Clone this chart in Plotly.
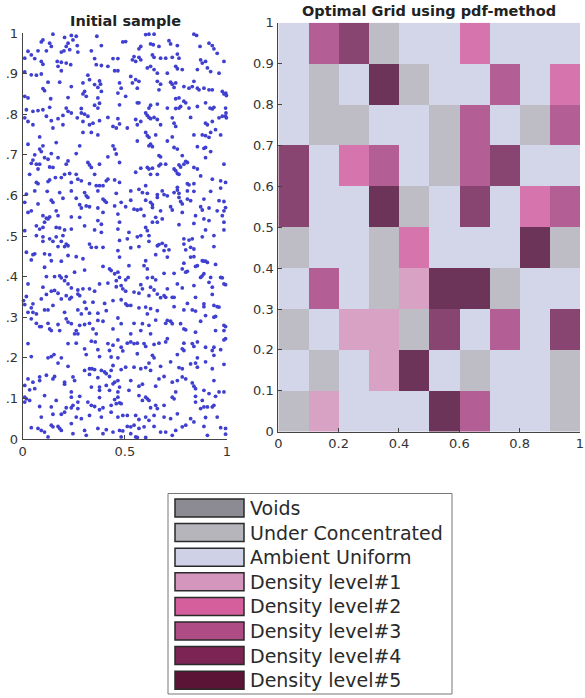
import plotly.graph_objects as go

# ---------------- data ----------------
sample_points = [
    # upper-left region
    (0.148,0.997),(0.205,0.989),(0.238,0.994),(0.262,0.992),(0.246,0.983),(0.363,0.992),(0.099,0.983),(0.091,0.978),
    (0.132,0.975),(0.140,0.967),(0.222,0.975),(0.213,0.967),(0.267,0.969),(0.385,0.969),(0.490,0.978),(0.026,0.955),
    (0.075,0.956),(0.116,0.956),(0.042,0.946),(0.189,0.953),(0.202,0.956),(0.230,0.959),(0.270,0.953),(0.336,0.956),
    (0.010,0.938),(0.059,0.937),(0.091,0.930),(0.099,0.923),(0.169,0.930),(0.189,0.928),(0.213,0.926),(0.235,0.922),
    (0.173,0.918),(0.189,0.907),(0.352,0.937),(0.360,0.922),(0.385,0.920),(0.417,0.918),(0.442,0.937),(0.466,0.937),
    (0.450,0.907),(0.466,0.907),(0.010,0.904),(0.042,0.897),(0.067,0.896),(0.091,0.899),(0.319,0.896),(0.327,0.885),
    (0.376,0.882),(0.381,0.874),(0.352,0.873),(0.124,0.879),(0.181,0.879),(0.238,0.868),(0.295,0.877),(0.303,0.856),
    (0.295,0.850),(0.099,0.863),(0.107,0.858),(0.368,0.866),(0.385,0.856),(0.474,0.877),(0.482,0.864),(0.010,0.844),
    (0.026,0.840),(0.137,0.838),(0.222,0.841),(0.311,0.844),(0.368,0.840),(0.466,0.852),(0.474,0.823),(0.376,0.827),
    (0.368,0.815),(0.352,0.822),(0.287,0.814),(0.018,0.811),(0.050,0.807),(0.075,0.809),(0.099,0.811),(0.132,0.817),
    (0.213,0.815),(0.222,0.807),(0.238,0.803),(0.287,0.803),(0.303,0.800),(0.319,0.795),(0.267,0.791),(0.010,0.791),
    (0.026,0.782),(0.050,0.774),(0.116,0.795),(0.140,0.784),(0.173,0.789),(0.197,0.797),(0.417,0.792),(0.466,0.789),
    (0.474,0.776),(0.295,0.782),(0.327,0.774),(0.344,0.778),(0.376,0.784),(0.442,0.770),(0.458,0.766),(0.148,0.766),
    (0.197,0.774),
    # upper-right region
    (0.602,0.996),(0.618,0.997),(0.643,0.997),(0.838,0.997),(0.851,0.994),(0.504,0.979),(0.578,0.967),(0.569,0.961),
    (0.626,0.973),(0.639,0.971),(0.667,0.967),(0.716,0.981),(0.724,0.973),(0.757,0.969),(0.912,0.975),(0.928,0.969),
    (0.936,0.961),(0.952,0.950),(0.868,0.967),(0.545,0.942),(0.569,0.940),(0.537,0.934),(0.553,0.930),(0.578,0.934),
    (0.635,0.946),(0.643,0.940),(0.675,0.938),(0.700,0.938),(0.732,0.940),(0.757,0.948),(0.765,0.938),(0.871,0.934),
    (0.879,0.926),(0.895,0.930),(0.985,0.930),(0.610,0.914),(0.626,0.918),(0.643,0.910),(0.659,0.901),(0.708,0.901),
    (0.749,0.918),(0.757,0.912),(0.781,0.910),(0.855,0.910),(0.904,0.914),(0.920,0.905),(0.961,0.901),(0.529,0.893),
    (0.553,0.885),(0.569,0.881),(0.537,0.877),(0.561,0.864),(0.659,0.881),(0.675,0.874),(0.667,0.860),(0.724,0.879),
    (0.732,0.874),(0.749,0.877),(0.741,0.866),(0.789,0.868),(0.814,0.864),(0.830,0.868),(0.838,0.881),(0.855,0.864),
    (0.863,0.860),(0.887,0.864),(0.912,0.860),(0.928,0.860),(0.977,0.856),(0.985,0.850),(0.994,0.852),(0.997,0.846),
    (0.504,0.844),(0.561,0.828),(0.569,0.828),(0.626,0.822),(0.618,0.815),(0.659,0.825),(0.749,0.838),(0.765,0.840),
    (0.789,0.832),(0.798,0.828),(0.708,0.815),(0.749,0.814),(0.765,0.815),(0.773,0.819),(0.814,0.815),(0.855,0.819),
    (0.895,0.828),(0.917,0.815),(0.928,0.813),(0.936,0.817),(0.993,0.815),(0.995,0.803),(0.602,0.803),(0.610,0.797),
    (0.618,0.792),(0.626,0.789),(0.643,0.792),(0.659,0.787),(0.732,0.791),(0.741,0.778),(0.749,0.770),(0.822,0.792),
    (0.895,0.778),(0.904,0.774),(0.928,0.782),(0.961,0.791),(0.977,0.795),(0.993,0.795),(0.997,0.791),(0.553,0.787),
    (0.561,0.774),(0.578,0.782),(0.675,0.774),(0.512,0.766),(0.944,0.762),
    # upper-middle-left
    (0.295,0.755),(0.336,0.755),(0.368,0.749),(0.083,0.744),(0.026,0.726),(0.164,0.730),(0.099,0.722),(0.083,0.714),
    (0.091,0.708),(0.107,0.693),(0.059,0.700),(0.140,0.703),(0.124,0.689),(0.050,0.687),(0.042,0.679),(0.067,0.677),
    (0.083,0.677),(0.173,0.693),(0.222,0.685),(0.213,0.677),(0.262,0.703),(0.279,0.722),(0.319,0.681),(0.327,0.675),
    (0.336,0.669),(0.376,0.677),(0.442,0.722),(0.450,0.714),(0.458,0.702),(0.417,0.695),(0.474,0.681),(0.034,0.652),
    (0.075,0.665),(0.132,0.670),(0.148,0.669),(0.205,0.652),(0.230,0.654),(0.160,0.644),(0.189,0.644),(0.262,0.652),
    (0.287,0.636),(0.352,0.652),(0.409,0.636),(0.417,0.640),(0.450,0.638),(0.474,0.632),(0.067,0.632),(0.075,0.629),
    (0.124,0.634),(0.132,0.638),(0.238,0.632),(0.270,0.640),(0.327,0.629),(0.360,0.624),(0.376,0.624),(0.393,0.624),
    (0.059,0.611),(0.120,0.610),(0.018,0.603),(0.181,0.607),(0.238,0.611),(0.303,0.607),(0.311,0.599),(0.319,0.595),
    (0.368,0.611),(0.458,0.605),(0.010,0.583),(0.075,0.579),(0.140,0.588),(0.148,0.583),(0.197,0.593),(0.262,0.593),
    (0.279,0.577),(0.287,0.569),(0.311,0.574),(0.327,0.572),(0.393,0.591),(0.401,0.587),(0.409,0.583),(0.368,0.569),
    (0.393,0.558),(0.450,0.574),(0.482,0.583),(0.026,0.558),(0.042,0.562),(0.099,0.550),(0.116,0.544),(0.124,0.542),
    (0.132,0.547),(0.107,0.534),(0.164,0.562),(0.173,0.550),(0.238,0.547),(0.279,0.546),(0.368,0.538),(0.385,0.529),
    (0.466,0.554),(0.474,0.534),(0.010,0.513),(0.067,0.525),(0.083,0.517),(0.099,0.521),(0.164,0.521),(0.181,0.520),
    (0.205,0.515),(0.238,0.517),(0.303,0.525),(0.352,0.515),(0.385,0.509),(0.466,0.517),
    # upper-middle-right
    (0.602,0.755),(0.610,0.747),(0.618,0.743),(0.651,0.749),(0.561,0.734),(0.618,0.722),(0.635,0.720),(0.626,0.726),
    (0.708,0.734),(0.732,0.744),(0.741,0.718),(0.757,0.714),(0.838,0.749),(0.879,0.749),(0.895,0.747),(0.912,0.743),
    (0.920,0.755),(0.969,0.749),(0.855,0.720),(0.887,0.716),(0.895,0.718),(0.920,0.708),(0.895,0.693),(0.667,0.698),
    (0.675,0.695),(0.781,0.698),(0.806,0.681),(0.798,0.684),(0.675,0.677),(0.667,0.673),(0.700,0.677),(0.765,0.675),
    (0.773,0.670),(0.789,0.677),(0.838,0.669),(0.855,0.665),(0.985,0.677),(0.553,0.657),(0.578,0.667),(0.610,0.669),
    (0.618,0.665),(0.635,0.667),(0.626,0.652),(0.659,0.652),(0.741,0.665),(0.749,0.661),(0.757,0.654),(0.765,0.652),
    (0.871,0.648),(0.928,0.640),(0.969,0.636),(0.993,0.632),(0.806,0.629),(0.814,0.626),(0.838,0.629),(0.602,0.624),
    (0.529,0.611),(0.569,0.615),(0.586,0.607),(0.610,0.605),(0.659,0.602),(0.683,0.611),(0.692,0.602),(0.741,0.607),
    (0.757,0.620),(0.757,0.613),(0.765,0.605),(0.806,0.611),(0.838,0.610),(0.920,0.610),(0.969,0.618),(0.529,0.588),
    (0.602,0.588),(0.626,0.583),(0.635,0.577),(0.659,0.595),(0.708,0.599),(0.765,0.595),(0.773,0.585),(0.781,0.579),
    (0.806,0.591),(0.822,0.587),(0.887,0.591),(0.961,0.587),(0.985,0.585),(0.504,0.572),(0.545,0.566),(0.561,0.564),
    (0.578,0.566),(0.635,0.570),(0.675,0.562),(0.724,0.572),(0.732,0.564),(0.781,0.558),(0.871,0.572),(0.879,0.564),
    (0.912,0.569),(0.952,0.562),(0.985,0.562),(0.993,0.570),(0.594,0.550),(0.635,0.534),(0.651,0.546),(0.659,0.534),
    (0.683,0.542),(0.765,0.528),(0.846,0.550),(0.838,0.531),(0.887,0.542),(0.912,0.538),(0.977,0.550),(0.985,0.534),
    (0.602,0.521),(0.610,0.513),(0.895,0.515),(0.985,0.515),(0.520,0.509),
    # lower-middle-left
    (0.067,0.501),(0.099,0.498),(0.132,0.493),(0.164,0.498),(0.197,0.501),(0.099,0.487),(0.148,0.487),(0.189,0.487),
    (0.213,0.480),(0.173,0.474),(0.205,0.474),(0.222,0.476),(0.327,0.480),(0.336,0.472),(0.360,0.472),(0.393,0.472),
    (0.474,0.489),(0.018,0.460),(0.050,0.454),(0.059,0.456),(0.042,0.441),(0.107,0.456),(0.132,0.454),(0.222,0.452),
    (0.262,0.449),(0.140,0.439),(0.189,0.438),(0.295,0.444),(0.466,0.464),(0.474,0.448),(0.107,0.423),(0.254,0.411),
    (0.303,0.416),(0.393,0.425),(0.425,0.419),(0.433,0.415),(0.450,0.407),(0.466,0.411),(0.474,0.398),(0.458,0.390),
    (0.116,0.400),(0.156,0.400),(0.181,0.402),(0.189,0.397),(0.213,0.400),(0.205,0.390),(0.222,0.382),(0.238,0.372),
    (0.270,0.367),(0.295,0.370),(0.026,0.382),(0.099,0.374),(0.140,0.364),(0.156,0.366),(0.173,0.359),(0.213,0.353),
    (0.270,0.357),(0.279,0.353),(0.238,0.349),(0.376,0.382),(0.417,0.384),(0.458,0.375),(0.482,0.378),(0.490,0.370),
    (0.327,0.370),(0.352,0.364),(0.018,0.351),(0.004,0.341),(0.010,0.331),(0.050,0.333),(0.091,0.345),(0.116,0.356),
    (0.148,0.329),(0.189,0.345),(0.230,0.345),(0.303,0.337),(0.344,0.337),(0.401,0.334),(0.442,0.341),(0.482,0.343),
    (0.042,0.323),(0.050,0.312),(0.067,0.308),(0.107,0.318),(0.124,0.318),(0.205,0.312),(0.270,0.318),(0.287,0.308),
    (0.311,0.321),(0.327,0.310),(0.368,0.310),(0.409,0.316),(0.042,0.296),(0.067,0.285),(0.083,0.277),(0.091,0.277),
    (0.124,0.285),(0.132,0.271),(0.140,0.267),(0.173,0.282),(0.213,0.296),(0.222,0.288),(0.238,0.284),(0.262,0.267),
    (0.270,0.259),(0.279,0.280),(0.303,0.282),(0.327,0.285),(0.344,0.271),(0.360,0.259),(0.393,0.290),(0.368,0.292),
    (0.442,0.271),(0.466,0.298),(0.482,0.284),(0.026,0.312),(0.181,0.267),(0.254,0.259),
    # lower-middle-right
    (0.561,0.498),(0.578,0.501),(0.618,0.501),(0.512,0.493),(0.569,0.474),(0.529,0.471),(0.618,0.487),(0.659,0.476),
    (0.667,0.479),(0.683,0.482),(0.700,0.476),(0.692,0.464),(0.716,0.466),(0.708,0.448),(0.651,0.454),(0.789,0.493),
    (0.814,0.490),(0.830,0.493),(0.879,0.498),(0.936,0.501),(0.789,0.480),(0.798,0.466),(0.822,0.472),(0.838,0.468),
    (0.936,0.474),(0.822,0.448),(0.838,0.449),(0.879,0.439),(0.887,0.438),(0.895,0.438),(0.904,0.435),(0.944,0.430),
    (0.846,0.425),(0.855,0.427),(0.789,0.433),(0.781,0.419),(0.798,0.411),(0.806,0.413),(0.871,0.398),(0.879,0.402),
    (0.887,0.407),(0.920,0.398),(0.969,0.398),(0.977,0.397),(0.985,0.382),(0.993,0.380),(0.520,0.427),(0.602,0.439),
    (0.594,0.427),(0.610,0.419),(0.516,0.398),(0.504,0.392),(0.610,0.397),(0.635,0.398),(0.651,0.392),(0.692,0.408),
    (0.741,0.408),(0.578,0.380),(0.586,0.370),(0.626,0.374),(0.643,0.367),(0.708,0.370),(0.757,0.382),(0.781,0.372),
    (0.838,0.378),(0.928,0.374),(0.912,0.386),(0.504,0.364),(0.545,0.362),(0.569,0.359),(0.618,0.353),(0.659,0.357),
    (0.675,0.348),(0.700,0.349),(0.692,0.353),(0.732,0.349),(0.741,0.349),(0.846,0.349),(0.928,0.356),(0.504,0.333),
    (0.512,0.329),(0.529,0.329),(0.569,0.323),(0.602,0.325),(0.610,0.308),(0.626,0.321),(0.659,0.316),(0.741,0.326),
    (0.789,0.318),(0.806,0.334),(0.830,0.318),(0.846,0.315),(0.887,0.333),(0.887,0.326),(0.936,0.329),(0.952,0.326),
    (0.961,0.325),(0.895,0.304),(0.936,0.300),(0.944,0.302),(0.545,0.285),(0.586,0.284),(0.618,0.280),(0.651,0.293),
    (0.700,0.285),(0.708,0.292),(0.724,0.290),(0.732,0.284),(0.773,0.284),(0.789,0.271),(0.798,0.269),(0.846,0.263),
    (0.871,0.290),(0.944,0.267),(0.985,0.280),(0.993,0.277),(0.985,0.267),(0.529,0.259),(0.578,0.267),(0.626,0.259),
    # lower-left
    (0.026,0.235),(0.222,0.235),(0.262,0.236),(0.336,0.241),(0.355,0.239),(0.417,0.235),(0.442,0.231),(0.466,0.244),
    (0.482,0.226),(0.042,0.203),(0.124,0.200),(0.140,0.203),(0.153,0.208),(0.189,0.200),(0.303,0.222),(0.311,0.208),
    (0.368,0.220),(0.376,0.203),(0.425,0.218),(0.433,0.202),(0.466,0.200),(0.490,0.217),(0.173,0.187),(0.222,0.179),
    (0.303,0.169),(0.327,0.173),(0.339,0.173),(0.352,0.171),(0.385,0.169),(0.401,0.165),(0.409,0.161),(0.442,0.181),
    (0.433,0.169),(0.482,0.171),(0.026,0.148),(0.050,0.140),(0.083,0.153),(0.083,0.144),(0.116,0.157),(0.148,0.148),
    (0.156,0.154),(0.205,0.140),(0.246,0.153),(0.254,0.144),(0.327,0.159),(0.368,0.151),(0.425,0.154),(0.442,0.136),
    (0.450,0.140),(0.466,0.144),(0.474,0.128),(0.010,0.132),(0.034,0.121),(0.059,0.124),(0.205,0.135),(0.238,0.116),
    (0.336,0.128),(0.376,0.128),(0.376,0.120),(0.409,0.132),(0.425,0.120),(0.466,0.116),(0.010,0.103),(0.018,0.099),
    (0.010,0.091),(0.034,0.095),(0.107,0.107),(0.164,0.095),(0.238,0.103),(0.279,0.105),(0.270,0.091),(0.319,0.091),
    (0.376,0.102),(0.450,0.097),(0.466,0.103),(0.474,0.089),(0.083,0.080),(0.140,0.079),(0.213,0.077),(0.238,0.077),
    (0.246,0.083),(0.336,0.083),(0.352,0.080),(0.393,0.077),(0.433,0.083),(0.458,0.087),(0.482,0.087),(0.091,0.054),
    (0.148,0.061),(0.189,0.061),(0.205,0.066),(0.270,0.075),(0.262,0.054),(0.287,0.050),(0.327,0.058),(0.376,0.072),
    (0.385,0.054),(0.433,0.066),(0.466,0.054),(0.490,0.058),(0.042,0.028),(0.075,0.026),(0.091,0.021),(0.107,0.017),
    (0.140,0.034),(0.148,0.030),(0.173,0.031),(0.181,0.026),(0.189,0.021),(0.238,0.038),(0.246,0.013),(0.303,0.021),
    (0.311,0.009),(0.368,0.026),(0.393,0.013),(0.409,0.023),(0.442,0.017),(0.474,0.021),(0.490,0.020),(0.124,0.005),
    (0.482,0.005),
    # lower-right
    (0.512,0.236),(0.529,0.239),(0.545,0.235),(0.561,0.236),(0.594,0.235),(0.602,0.228),(0.643,0.233),(0.667,0.236),
    (0.700,0.239),(0.708,0.247),(0.789,0.236),(0.830,0.235),(0.838,0.228),(0.855,0.239),(0.895,0.226),(0.928,0.218),
    (0.936,0.226),(0.969,0.220),(0.985,0.244),(0.993,0.247),(0.561,0.210),(0.635,0.206),(0.643,0.200),(0.757,0.208),
    (0.781,0.222),(0.789,0.218),(0.855,0.200),(0.895,0.190),(0.936,0.206),(0.504,0.177),(0.545,0.177),(0.578,0.173),
    (0.602,0.176),(0.618,0.187),(0.626,0.169),(0.675,0.179),(0.724,0.190),(0.765,0.176),(0.781,0.173),(0.822,0.185),
    (0.846,0.187),(0.855,0.177),(0.928,0.173),(0.985,0.184),(0.529,0.144),(0.569,0.130),(0.586,0.135),(0.651,0.130),
    (0.667,0.148),(0.692,0.154),(0.732,0.140),(0.757,0.144),(0.781,0.153),(0.798,0.148),(0.830,0.138),(0.838,0.130),
    (0.846,0.124),(0.887,0.120),(0.936,0.144),(0.961,0.116),(0.912,0.112),(0.944,0.105),(0.985,0.116),(0.520,0.120),
    (0.569,0.107),(0.602,0.103),(0.610,0.099),(0.586,0.095),(0.618,0.095),(0.626,0.077),(0.651,0.083),(0.659,0.075),
    (0.692,0.083),(0.732,0.103),(0.741,0.099),(0.749,0.116),(0.846,0.105),(0.846,0.091),(0.879,0.095),(0.887,0.079),
    (0.904,0.079),(0.928,0.079),(0.936,0.083),(0.871,0.075),(0.512,0.058),(0.553,0.058),(0.569,0.048),(0.602,0.054),
    (0.618,0.046),(0.643,0.058),(0.692,0.054),(0.724,0.050),(0.757,0.062),(0.822,0.050),(0.838,0.042),(0.895,0.053),
    (0.952,0.054),(0.512,0.031),(0.529,0.030),(0.545,0.034),(0.569,0.026),(0.594,0.030),(0.643,0.031),(0.675,0.017),
    (0.700,0.017),(0.732,0.009),(0.749,0.021),(0.781,0.030),(0.798,0.034),(0.887,0.031),(0.904,0.009),(0.969,0.028),
    (0.993,0.026),(0.993,0.012),(0.529,0.013),(0.561,0.004),(0.602,0.004),(0.553,0.005),
]
sample_x = [p[0] for p in sample_points]
sample_y = [p[1] for p in sample_points]

# grid categories: 0 Voids, 1 Under Concentrated, 2 Ambient Uniform, 3..7 Density level#1..#5
grid_centers = [0.05, 0.15, 0.25, 0.35, 0.45, 0.55, 0.65, 0.75, 0.85, 0.95]
grid_rows = [  # bottom row (y 0-0.1) first
    [1, 3, 2, 2, 2, 7, 5, 2, 2, 1],
    [2, 1, 2, 3, 7, 2, 1, 2, 2, 1],
    [1, 2, 3, 3, 1, 6, 2, 5, 2, 6],
    [2, 5, 2, 1, 3, 7, 7, 1, 2, 2],
    [1, 2, 2, 1, 4, 2, 2, 2, 7, 1],
    [6, 2, 2, 7, 1, 2, 6, 2, 4, 5],
    [6, 2, 4, 5, 2, 1, 5, 6, 2, 2],
    [2, 1, 1, 2, 2, 1, 5, 2, 1, 5],
    [2, 1, 2, 7, 1, 2, 2, 5, 2, 4],
    [2, 5, 6, 1, 2, 2, 4, 2, 2, 2],
]
grid_colors = ["#8e8c95", "#bebdc6", "#d3d5e9", "#d8a2c5", "#d674ae",
               "#b35f95", "#884571", "#6d3459"]

legend_labels = ["Voids", "Under Concentrated", "Ambient Uniform", "Density level#1",
                 "Density level#2", "Density level#3", "Density level#4", "Density level#5"]
legend_colors = ["#8c8a92", "#b6b5bb", "#cfd1e7", "#d596bd", "#d55f9d",
                 "#ae4c85", "#7c2554", "#5c1436"]

x_ticks_left = [0, 0.5, 1]
x_ticklabels_left = ["0", "0.5", "1"]
x_ticks_right = [0, 0.2, 0.4, 0.6, 0.8, 1]
x_ticklabels_right = ["0", "0.2", "0.4", "0.6", "0.8", "1"]
y_ticks = [0, 0.1, 0.2, 0.3, 0.4, 0.5, 0.6, 0.7, 0.8, 0.9, 1]
y_ticklabels_left = ["0", ".1", ".2", ".3", ".4", ".5", ".6", ".7", ".8", ".9", "1"]
y_ticklabels_right = ["0", "0.1", "0.2", "0.3", "0.4", "0.5", "0.6", "0.7", "0.8", "0.9", "1"]

# ---------------- figure ----------------
W, H = 585, 698
FONT = "DejaVu Sans"
TXT = "#333333"


def px(x):
    return x / W


def py(y):
    return 1 - y / H


fig = go.Figure()

fig.add_trace(go.Scatter(
    x=sample_x, y=sample_y, mode="markers",
    marker=dict(size=3.8, color="#4040d0", line=dict(width=0)),
    cliponaxis=False, xaxis="x", yaxis="y", hoverinfo="skip"))

n = len(grid_colors)
cscale = []
for i, c in enumerate(grid_colors):
    cscale.append([i / n, c])
    cscale.append([(i + 1) / n, c])

fig.add_trace(go.Heatmap(
    x=grid_centers, y=grid_centers, z=grid_rows,
    colorscale=cscale, zmin=-0.5, zmax=n - 0.5, showscale=False,
    xaxis="x2", yaxis="y2", hoverinfo="skip"))

axis_common = dict(
    showgrid=False, zeroline=False, showline=True, linecolor="#444444", linewidth=1,
    ticks="inside", ticklen=4, tickwidth=1, tickcolor="#444444", layer="above traces",
    tickfont=dict(family=FONT, size=13, color=TXT), automargin=False, fixedrange=True)

fig.update_layout(
    width=W, height=H, margin=dict(l=0, r=0, t=0, b=0),
    paper_bgcolor="white", plot_bgcolor="white", showlegend=False,
    xaxis=dict(domain=[px(22.7), px(227)], range=[0, 1], anchor="y",
               tickvals=x_ticks_left, ticktext=x_ticklabels_left, **axis_common),
    yaxis=dict(domain=[py(439), py(33)], range=[0, 1], anchor="x",
               tickvals=y_ticks, ticktext=y_ticklabels_left, ticklabelstandoff=1, **axis_common),
    xaxis2=dict(domain=[px(278.3), px(580)], range=[0, 1], anchor="y2",
                tickvals=x_ticks_right, ticktext=x_ticklabels_right, **axis_common),
    yaxis2=dict(domain=[py(431.7), py(22.7)], range=[0, 1], anchor="x2",
                tickvals=y_ticks, ticktext=y_ticklabels_right, ticklabelstandoff=1, **axis_common),
)

annotations = [
    dict(text="<b>Initial sample</b>", x=px(125), y=py(21.5), xref="paper", yref="paper",
         xanchor="center", yanchor="middle", showarrow=False,
         font=dict(family=FONT, size=14.5, color="#222222")),
    dict(text="<b>Optimal Grid using pdf-method</b>", x=px(429), y=py(11), xref="paper", yref="paper",
         xanchor="center", yanchor="middle", showarrow=False,
         font=dict(family=FONT, size=14.5, color="#222222")),
]

shapes = [dict(type="rect", xref="paper", yref="paper",
               x0=px(168), x1=px(452), y0=py(694), y1=py(493.5),
               line=dict(color="#777777", width=1), fillcolor="white")]

row0, step = 508.0, 24.6
for i, (lab, col) in enumerate(zip(legend_labels, legend_colors)):
    cy = row0 + i * step
    shapes.append(dict(type="rect", xref="paper", yref="paper",
                       x0=px(175), x1=px(244), y0=py(cy + 9), y1=py(cy - 9),
                       line=dict(color="#2a2a2a", width=1.5), fillcolor=col))
    annotations.append(dict(text=lab, x=px(248), y=py(cy), xref="paper", yref="paper",
                            xanchor="left", yanchor="middle", showarrow=False,
                            font=dict(family=FONT, size=19, color="#2a2a2a")))

fig.update_layout(annotations=annotations, shapes=shapes)

# remove the browser's default 8px page margin so the figure fills the window
fig.write_html("out.html", config={"displayModeBar": False},
               post_script="document.body.style.margin='0px';")
